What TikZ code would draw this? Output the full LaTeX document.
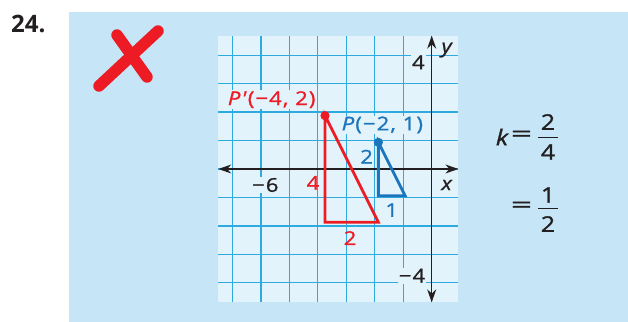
\documentclass[tikz,border=0pt]{standalone}
\usepackage{fontspec}
\setmainfont{Open Sans}
\newfontfamily\labfont{Open Sans}[FakeStretch=1.16, LetterSpace=6, FakeBold=1.2]
\usetikzlibrary{arrows.meta}
\definecolor{panelA}{HTML}{C6E6F8}
\definecolor{panelB}{HTML}{DCF0FB}
\definecolor{gridbg}{HTML}{E3F3FC}
\definecolor{gridln}{HTML}{2EAAE1}
\definecolor{myred}{HTML}{ED1C24}
\definecolor{myblue}{HTML}{1B75BC}
\definecolor{ink}{HTML}{231F20}
\begin{document}
\begin{tikzpicture}[x=1pt,y=-1pt,
  lab/.style={font=\labfont\fontsize{19}{22}\selectfont, inner sep=1pt, text=ink},
  big/.style={font=\labfont\fontsize{21.5}{24}\selectfont, inner sep=0pt, text=ink},
  axis/.style={line width=1.3pt, ink, {Stealth[length=13pt,width=9pt]}-{Stealth[length=13pt,width=9pt]}},
  tri/.style={line width=2.8pt, line join=miter},
  stroke/.style={myred, line cap=round, line width=11.5pt}]
\useasboundingbox (0,0) rectangle (628,321);
\fill[white] (0,0) rectangle (628,321);
\shade[left color=panelA, middle color=panelB, right color=panelA] (69,13) rectangle (628,321);
\node[font=\bfseries\fontsize{24}{26}\selectfont, text=ink, anchor=west, inner sep=0pt] (num) at (11,24) {24.};
% red cross
\coordinate (xa1) at (99,86); \coordinate (xa2) at (158,31);
\coordinate (xb1) at (117,35); \coordinate (xb2) at (147,77);
\draw[stroke] (xb1) -- (xb2);
\draw[stroke] (xa1) -- (xa2);
% grid
\begin{scope}[shift={(431.7pt,-169pt)}, x=26.67pt, y=26.67pt]
\fill[gridbg] (-8,-5) rectangle (1,5);
\draw[gridln, line width=1.2pt] (-8,-5) grid (1,5);
\node[lab, fill=gridbg] (y4) at (-0.5,4) {4};
\node[lab, fill=gridbg, anchor=east] (ym4) at (-0.2,-4) {−4};
\node[lab, fill=gridbg, anchor=east] (xm6) at (-5.7,-0.6) {−6};
\coordinate (xl) at (-8,0); \coordinate (xr) at (1,0);
\coordinate (yb) at (0,-5); \coordinate (yt) at (0,5);
\draw[axis] (xl) -- (xr);
\draw[axis] (yb) -- (yt);
\node[lab] (xlab) at (0.56,-0.6) {\itshape x};
\node[lab] (ylab) at (0.56,4.46) {\itshape y};
% triangles
\coordinate (R1) at (-4,2); \coordinate (R2) at (-4,-2); \coordinate (R3) at (-2,-2);
\coordinate (B1) at (-2,1); \coordinate (B2) at (-2,-1); \coordinate (B3) at (-1,-1);
\draw[tri, myred] (R1) -- (R2) -- (R3) -- cycle;
\draw[tri, myblue] (B1) -- (B2) -- (B3) -- cycle;
\fill[myred] (R1) circle (4.6pt);
\fill[myblue] (B1) circle (4.6pt);
\node[lab, text=myred, fill=gridbg] (Pp) at (-6.0,2.6) {\textit{P'}(−4, 2)};
\node[lab, text=myblue, fill=gridbg] (P) at (-1.85,1.65) {\textit{P}(−2, 1)};
\node[lab, text=myblue] (b2) at (-2.44,0.46) {2};
\node[lab, text=myred] (r4) at (-4.45,-0.52) {4};
\node[lab, text=myred] (r2) at (-3.06,-2.59) {2};
\node[lab, text=myblue] (b1) at (-1.5,-1.54) {1};
\end{scope}
% k computation
\node[big] (k) at (502,137) {\itshape k};
\node[big] (eq1) at (521.5,136) {\scalebox{1.5}[1]{=}};
\node[big] (n1) at (548,122) {2};
\node[big] (d1) at (548,152) {4};
\coordinate (f1a) at (538,137); \coordinate (f1b) at (558,137);
\draw[line width=1pt, ink] (f1a) -- (f1b);
\node[big] (eq2) at (521.5,207) {\scalebox{1.5}[1]{=}};
\node[big] (n2) at (548,195) {1};
\node[big] (d2) at (548,224) {2};
\coordinate (f2a) at (538,208); \coordinate (f2b) at (558,208);
\draw[line width=1pt, ink] (f2a) -- (f2b);
\end{tikzpicture}
\end{document}
